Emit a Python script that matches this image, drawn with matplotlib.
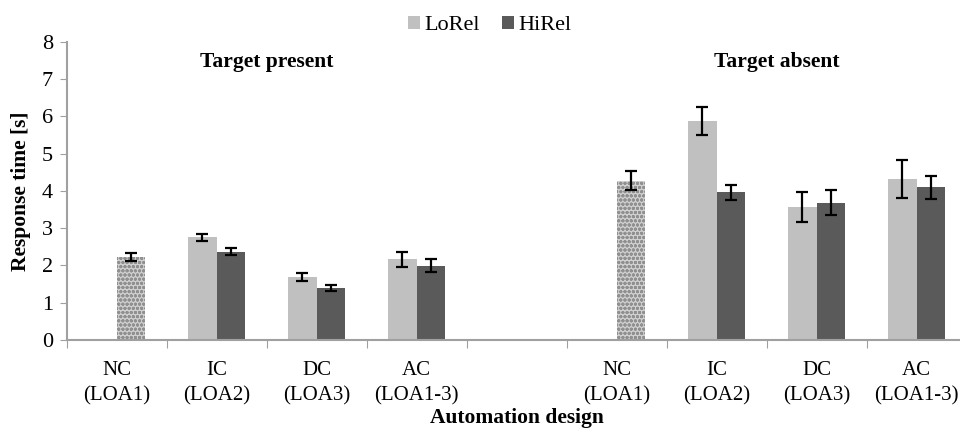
import numpy as np
import matplotlib.pyplot as plt

plt.rcParams['font.family'] = ['Liberation Serif', 'DejaVu Serif']

designs = ["NC\n(LOA1)", "IC\n(LOA2)", "DC\n(LOA3)", "AC\n(LOA1-3)"]
panels = ["Target present", "Target absent"]

# NC has a single bar (no reliability manipulation)
nc_mean = [2.22, 4.27]
nc_err = [0.10, 0.25]

# IC, DC, AC
lorel_present = [2.75, 1.68, 2.16]
lorel_present_err = [0.10, 0.11, 0.21]
hirel_present = [2.37, 1.40, 1.99]
hirel_present_err = [0.10, 0.08, 0.17]

lorel_absent = [5.88, 3.56, 4.32]
lorel_absent_err = [0.38, 0.40, 0.50]
hirel_absent = [3.96, 3.68, 4.09]
hirel_absent_err = [0.20, 0.33, 0.30]

lo_color = '#c0c0c0'
hi_color = '#5a5a5a'
w = 0.285

fig = plt.figure(figsize=(9.6, 4.33), dpi=100)
ax = fig.add_axes([66.7 / 960, 1 - 340 / 433, 900 / 960, (340 - 41.7) / 433])

ekw = dict(ecolor='black', elinewidth=1.6, capsize=4, capthick=1.6)

starts = [0, 5]
lo_vals = [lorel_present, lorel_absent]
lo_errs = [lorel_present_err, lorel_absent_err]
hi_vals = [hirel_present, hirel_absent]
hi_errs = [hirel_present_err, hirel_absent_err]

for g in range(2):
    s = starts[g]
    ax.bar(s + w / 2, nc_mean[g], w, yerr=nc_err[g], color='#d0d0d0',
           edgecolor='#909090', linewidth=0, hatch='oooo', error_kw=ekw, zorder=2)
    x = np.arange(1, 4) + s
    ax.bar(x - w / 2, lo_vals[g], w, yerr=lo_errs[g], color=lo_color,
           error_kw=ekw, zorder=2, label='LoRel' if g == 0 else None)
    ax.bar(x + w / 2, hi_vals[g], w, yerr=hi_errs[g], color=hi_color,
           error_kw=ekw, zorder=2, label='HiRel' if g == 0 else None)

ax.set_xlim(-0.5, 8.5)
ax.set_ylim(0, 8)
ax.set_yticks(range(9))
ax.tick_params(axis='y', labelsize=16, length=5, color='#a0a0a0', pad=5)

ax.set_xticks(np.arange(-0.5, 9, 1))
ax.set_xticklabels([])
ax.tick_params(axis='x', length=6, color='#a0a0a0')
ax.set_xticks([0, 1, 2, 3, 5, 6, 7, 8], minor=True)
ax.set_xticklabels(designs + designs, minor=True, fontsize=15, linespacing=1.45)
ax.tick_params(axis='x', which='minor', length=0, pad=15)

for sp in ['top', 'right']:
    ax.spines[sp].set_visible(False)
for sp in ['left', 'bottom']:
    ax.spines[sp].set_color('#a0a0a0')
    ax.spines[sp].set_linewidth(1.5)

ax.text(1.5, 7.45, panels[0], ha='center', va='center', fontsize=15.5, fontweight='bold')
ax.text(6.6, 7.45, panels[1], ha='center', va='center', fontsize=15.5, fontweight='bold')

ax.set_xlabel("Automation design", fontsize=15.5, fontweight='bold', labelpad=2)
ax.set_ylabel("Response time [s]", fontsize=15.5, fontweight='bold', labelpad=8)

fig.legend(loc='upper center', bbox_to_anchor=(0.51, 1.01), ncol=2, frameon=False,
           fontsize=16, handlelength=0.55, handleheight=0.55, handletextpad=0.2,
           columnspacing=1.0)

fig.savefig('out.png', dpi=100)
